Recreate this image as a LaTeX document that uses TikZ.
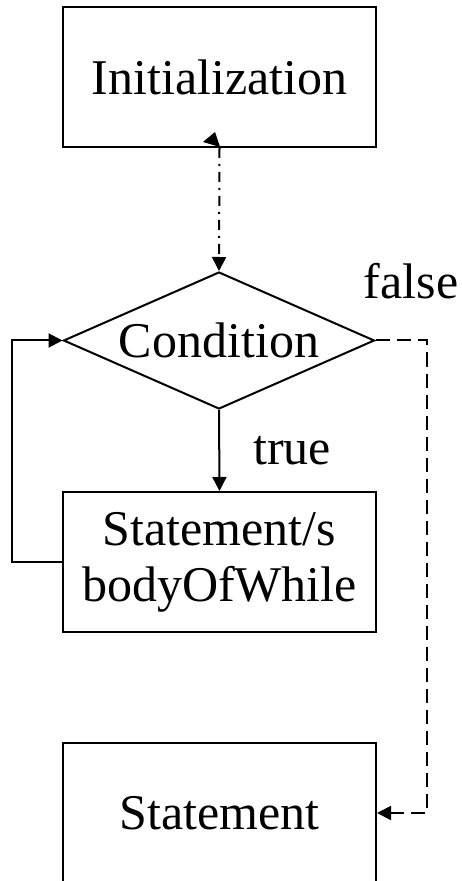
\documentclass[tikz,border=0pt]{standalone}
\usepackage{fontspec}
\setmainfont{Liberation Serif}
\usetikzlibrary{shapes.geometric,arrows.meta,positioning,calc}

\begin{document}
\begin{tikzpicture}[x=0.5pt, y=-0.5pt, line width=1pt,
  every node/.style={font=\fontsize{25}{28}\selectfont},
  box/.style={draw, rectangle, inner sep=0pt, minimum width=156.5pt, minimum height=70pt, align=center},
  decision/.style={draw, diamond, aspect=2.27, inner sep=0pt, minimum width=155.5pt, minimum height=68.5pt},
  lbl/.style={anchor=base, inner sep=0pt},
  tip/.style={-{Triangle[length=7pt,width=7pt]}}]
  \useasboundingbox (0,0) rectangle (461,881);
  \clip (0,0) rectangle (461,881);
  % boxes
  \node[box] (init) at (219.5,77) {Initialization};
  \node[decision] (cond) at (219,340.5) {Condition};
  \node[box] (body) at (219.5,562) {Statement/s\\bodyOfWhile};
  \node[box] (stmt) at (219.5,813) {Statement};
  % labels
  \node[lbl] (truelbl) at (292,464) {true};
  \node[lbl] (falselbl) at (411,299) {false};
  % connectors
  \draw[tip, dash pattern=on 5pt off 3pt on 1pt off 3pt] (init.south) -- (cond.north);
  \fill (215,132) -- (203,142) -- (220,147) -- cycle; % skewed head at the top
  \draw[tip] (cond.south) -- (body.north);
  \draw[tip] (body.west) -- ++(-50,0) |- (cond.west);
  \draw[tip, dash pattern=on 7pt off 3.5pt] (cond.east) -- ++(51,0) |- (stmt.east);
\end{tikzpicture}
\end{document}
